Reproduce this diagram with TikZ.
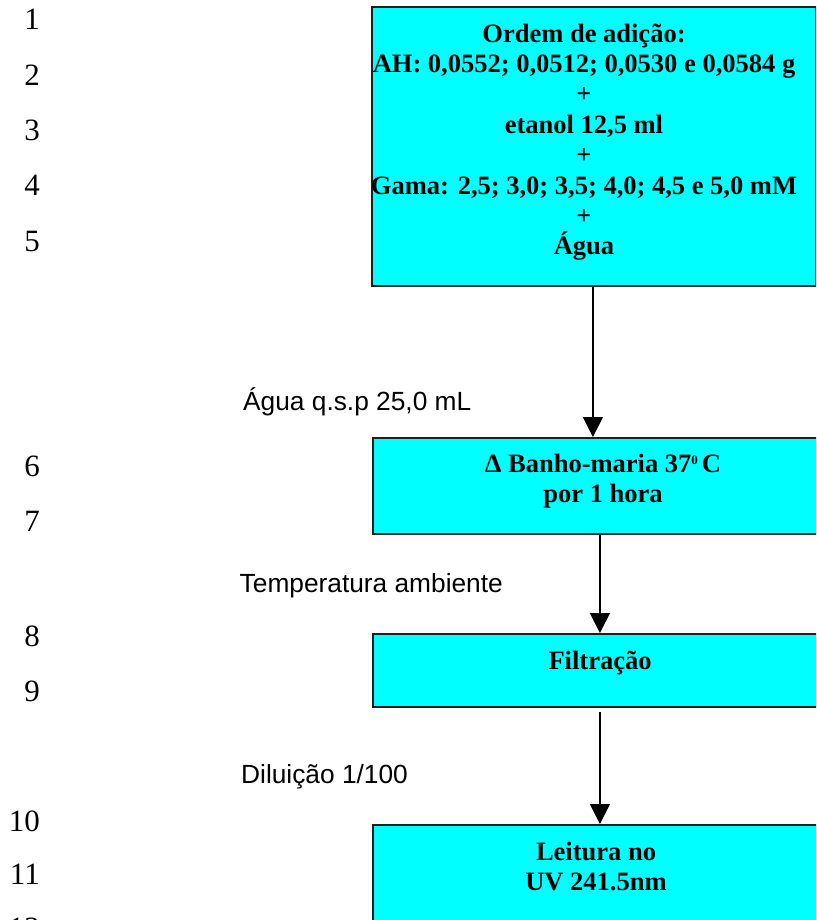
\documentclass[tikz,border=0pt]{standalone}
\usepackage{fontspec}
\setmainfont{Liberation Serif}
\newfontfamily\notefont{Liberation Sans}
\usetikzlibrary{arrows.meta}
\definecolor{boxcyan}{RGB}{0,255,255}
\begin{document}
\begin{tikzpicture}[x=1pt,y=-1pt,
  stepbox/.style={draw=black!88, line width=1.8pt, fill=boxcyan, inner sep=0pt, anchor=north west},
  steptext/.style={font=\fontsize{26.5}{30.4}\selectfont\bfseries, align=center, inner sep=0pt},
  note/.style={font=\notefont\fontsize{26.3}{30}\selectfont, anchor=base west, inner sep=0pt},
  lineno/.style={font=\fontsize{31}{31}\selectfont, anchor=base east, inner sep=0pt},
  flow/.style={line width=1.3pt, -{Triangle[width=20pt,length=20pt]}}]

\useasboundingbox (0,0) rectangle (816,920);
\clip (0,0) rectangle (816,920);

% line numbers in the margin
\foreach \n/\yy in {1/30,2/86,3/141,4/196,5/251,6/476,7/531,8/646,9/701,10/831,11/884,12/938}
  \node[lineno] (n\n) at (40,\yy) {\n};

% process steps
\node[stepbox, minimum width=444pt, minimum height=279pt] (b1) at (371,6) {};
\node[steptext] (t1) at (584,142.2) {Ordem de adição:\\AH: 0,0552; 0,0512; 0,0530 e 0,0584 g\\+\\etanol 12,5 ml\\+\\Gama: 2,5; 3,0; 3,5; 4,0; 4,5 e 5,0 mM\\+\\Água};

\node[stepbox, minimum width=454pt, minimum height=96pt] (b2) at (372,437) {};
\node[steptext, font=\fontsize{26.5}{30}\selectfont\bfseries] (t2) at (603,481)
  {Δ Banho-maria 37\raisebox{8.3pt}{\fontsize{13}{13}\selectfont 0}\hspace{4pt}C\\por 1 hora};

\node[stepbox, minimum width=454pt, minimum height=73pt] (b3) at (372,633) {};
\node[steptext, anchor=base] (t3) at (600,669) {Filtração};

\node[stepbox, minimum width=454pt, minimum height=130pt] (b4) at (372,824) {};
\node[steptext, font=\fontsize{26.5}{30}\selectfont\bfseries] (t4) at (596,866.2) {Leitura no\\UV 241.5nm};

% notes beside the connectors
\node[note] (l1) at (243,410) {Água q.s.p 25,0 mL};
\node[note] (l2) at (239.5,592) {Temperatura ambiente};
\node[note] (l3) at (241,783) {Diluição 1/100};

% connectors
\coordinate (a1) at ([xshift=-1pt]b1.south);
\draw[flow] (a1) -- (a1 |- b2.north);
\draw[flow] (b2.south) -- (b3.north);
\draw[flow] ([yshift=-4pt]b3.south) -- (b4.north);
\end{tikzpicture}
\end{document}
